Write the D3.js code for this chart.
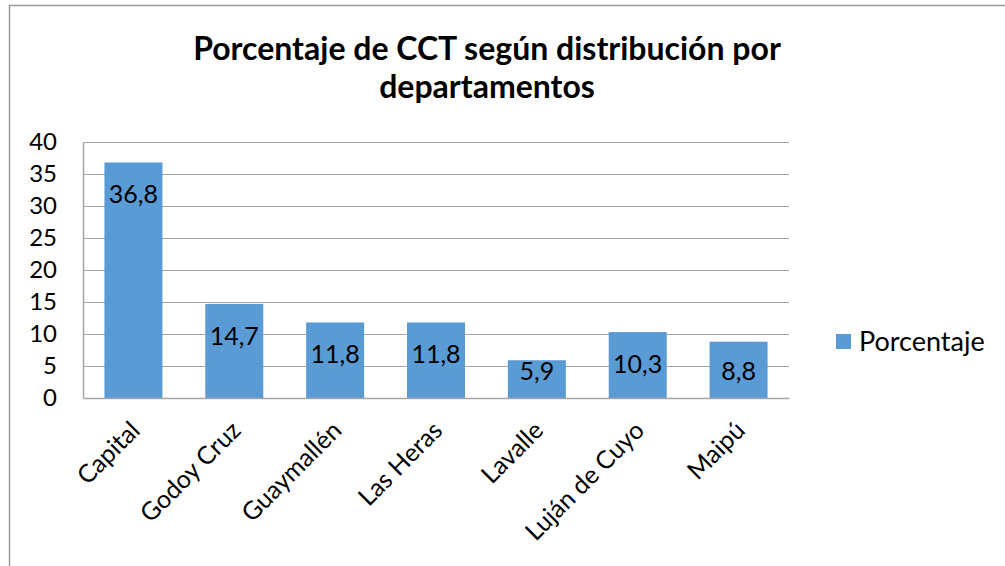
<!DOCTYPE html>
<html>
<head>
<meta charset="utf-8">
<script src="https://cdn.jsdelivr.net/npm/d3@7"></script>
<style>
  body { margin: 0; background: #fff; }
  svg { display: block; font-family: Lato, "Open Sans", sans-serif; }
</style>
</head>
<body>
<div id="chart"></div>
<script>
// Data
const departamentos = ['Capital', 'Godoy Cruz', 'Guaymallén', 'Las Heras', 'Lavalle', 'Luján de Cuyo', 'Maipú'];
const porcentajes = [36.8, 14.7, 11.8, 11.8, 5.9, 10.3, 8.8];
const yTicks = [0, 5, 10, 15, 20, 25, 30, 35, 40];
const titleLines = ['Porcentaje de CCT según distribución por', 'departamentos'];
const seriesName = 'Porcentaje';

const data = departamentos.map((d, i) => ({ name: d, value: porcentajes[i] }));

const W = 1005, H = 566;
const margin = { top: 142, right: 216, bottom: 168, left: 83 };
const width = W - margin.left - margin.right;
const height = H - margin.top - margin.bottom;

const svg = d3.select('#chart')
    .append('svg')
    .attr('width', W)
    .attr('height', H);

// outer chart border
svg.append('rect')
    .attr('x', 9.5)
    .attr('y', 5.5)
    .attr('width', W)
    .attr('height', H)
    .attr('fill', 'none')
    .attr('stroke', '#9a9a9a')
    .attr('stroke-width', 1.5);

// Title
svg.append('text')
    .attr('x', 487)
    .attr('y', 60)
    .attr('text-anchor', 'middle')
    .style('font-weight', 'bold')
    .style('font-size', '32px')
    .attr('fill', '#000')
    .selectAll('tspan')
    .data(titleLines)
    .enter()
    .append('tspan')
    .attr('x', 487)
    .attr('dy', (d, i) => i === 0 ? 0 : 38)
    .text(d => d);

const g = svg.append('g')
    .attr('transform', `translate(${margin.left},${margin.top})`);

// Scales
const x = d3.scaleBand()
    .domain(departamentos)
    .range([0, width])
    .paddingInner(0.425)
    .paddingOuter(0.2125);

const y = d3.scaleLinear()
    .domain([0, 40])
    .range([height, 0]);

// Gridlines
g.append('g')
    .selectAll('line')
    .data(yTicks.filter(t => t > 0))
    .enter()
    .append('line')
    .attr('x1', 0)
    .attr('x2', width)
    .attr('y1', d => Math.round(y(d)) + 0.5)
    .attr('y2', d => Math.round(y(d)) + 0.5)
    .attr('stroke', '#a6a6a6')
    .attr('stroke-width', 1);

// Y axis
const yAxis = d3.axisLeft(y)
    .tickValues(yTicks)
    .tickSize(0)
    .tickPadding(26);

g.append('g')
    .call(yAxis)
    .call(ax => ax.select('.domain').attr('stroke', '#a6a6a6').attr('stroke-width', 1.5))
    .call(ax => ax.selectAll('text')
        .style('font-size', '24px')
        .style('font-family', 'Lato, sans-serif')
        .attr('fill', '#000'));

// Bars
g.selectAll('.bar')
    .data(data)
    .enter()
    .append('rect')
    .attr('class', 'bar')
    .attr('x', d => x(d.name))
    .attr('y', d => y(d.value))
    .attr('width', x.bandwidth())
    .attr('height', d => height - y(d.value))
    .attr('fill', '#5b9bd5');

// X axis
const xAxis = d3.axisBottom(x).tickSize(0).tickPadding(0);
g.append('g')
    .attr('transform', `translate(0,${height})`)
    .call(xAxis)
    .call(ax => ax.select('.domain').attr('stroke', '#a6a6a6').attr('stroke-width', 1.5))
    .call(ax => ax.selectAll('text')
        .style('font-size', '25px')
        .style('font-family', 'Lato, sans-serif')
        .attr('fill', '#000')
        .attr('text-anchor', 'end')
        .attr('dy', null)
        .attr('y', 0)
        .attr('transform', 'translate(8,34) rotate(-45)'));

// Data labels
g.selectAll('.label')
    .data(data)
    .enter()
    .append('text')
    .attr('class', 'label')
    .attr('x', d => x(d.name) + x.bandwidth() / 2)
    .attr('y', d => Math.min(y(d.value) + 32, height - 27))
    .attr('dy', '0.35em')
    .attr('text-anchor', 'middle')
    .style('font-size', '25px')
    .attr('fill', '#000')
    .text(d => String(d.value).replace('.', ','));

// Legend
const legend = svg.append('g')
    .attr('transform', 'translate(836,334)');

legend.append('rect')
    .attr('width', 15)
    .attr('height', 15)
    .attr('fill', '#5b9bd5');

legend.append('text')
    .attr('x', 23)
    .attr('y', 8)
    .attr('dy', '0.35em')
    .style('font-size', '27px')
    .attr('fill', '#000')
    .text(seriesName);
</script>
</body>
</html>
